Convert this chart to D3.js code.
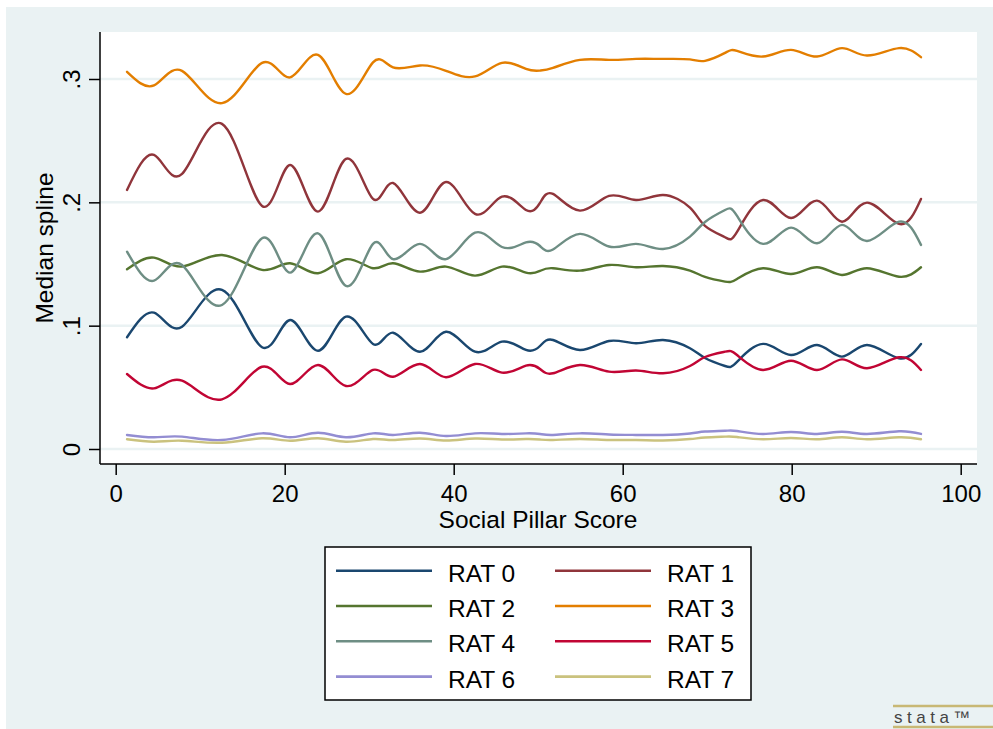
<!DOCTYPE html>
<html>
<head>
<meta charset="utf-8">
<script src="https://cdn.jsdelivr.net/npm/d3@7"></script>
<style>
  html, body { margin: 0; padding: 0; background: #ffffff; }
  svg { display: block; font-family: "Liberation Sans", Arial, sans-serif; }
</style>
</head>
<body>
<svg id="chart" width="993" height="729"></svg>
<script>
// Social Pillar Score at which each median-spline knot sits
const scores = [1.34, 4.53, 7.85, 12.58, 17.32, 20.63, 23.94, 27.25, 30.45, 32.82,
  36.01, 39.09, 42.52, 45.71, 48.55, 50.21, 51.75, 54.94, 58.38, 61.57,
  64.77, 67.96, 69.74, 72.11, 73.53, 76.61, 79.92, 83.00, 85.95, 88.91, 92.70, 95.30];

const rat0 = [0.0906, 0.1105, 0.0992, 0.1290, 0.0825, 0.1046, 0.0797, 0.1073, 0.0852, 0.0943,
  0.0789, 0.0951, 0.0789, 0.0870, 0.0803, 0.0835, 0.0884, 0.0803, 0.0876, 0.0857,
  0.0884, 0.0817, 0.0738, 0.0673, 0.0706, 0.0852, 0.0762, 0.0843, 0.0749, 0.0843, 0.0736, 0.0852];
const rat1 = [0.2100, 0.2384, 0.2230, 0.2636, 0.1971, 0.2303, 0.1925, 0.2352, 0.2028, 0.2157,
  0.1916, 0.2165, 0.1906, 0.2046, 0.1938, 0.1995, 0.2068, 0.1933, 0.2052, 0.2019,
  0.2060, 0.1957, 0.1809, 0.1717, 0.1760, 0.2019, 0.1873, 0.2014, 0.1843, 0.1998, 0.1825, 0.2028];
const rat2 = [0.1457, 0.1552, 0.1479, 0.1573, 0.1452, 0.1506, 0.1425, 0.1539, 0.1466, 0.1506,
  0.1438, 0.1479, 0.1406, 0.1479, 0.1430, 0.1444, 0.1466, 0.1446, 0.1492, 0.1474,
  0.1484, 0.1446, 0.1395, 0.1357, 0.1379, 0.1466, 0.1419, 0.1474, 0.1411, 0.1466, 0.1397, 0.1474];
const rat3 = [0.3058, 0.2948, 0.3066, 0.2804, 0.3131, 0.3013, 0.3195, 0.2879, 0.3135, 0.3094,
  0.3110, 0.3066, 0.3021, 0.3131, 0.3082, 0.3068, 0.3090, 0.3155, 0.3155, 0.3163,
  0.3163, 0.3159, 0.3147, 0.3212, 0.3228, 0.3182, 0.3236, 0.3182, 0.3250, 0.3190, 0.3250, 0.3177];
const rat4 = [0.1600, 0.1365, 0.1492, 0.1168, 0.1709, 0.1430, 0.1749, 0.1322, 0.1663, 0.1539,
  0.1663, 0.1539, 0.1754, 0.1638, 0.1675, 0.1646, 0.1618, 0.1744, 0.1642, 0.1663,
  0.1622, 0.1722, 0.1841, 0.1938, 0.1890, 0.1663, 0.1795, 0.1668, 0.1817, 0.1687, 0.1843, 0.1655];
const rat5 = [0.0608, 0.0492, 0.0554, 0.0403, 0.0667, 0.0527, 0.0681, 0.0511, 0.0641, 0.0586,
  0.0689, 0.0582, 0.0689, 0.0619, 0.0676, 0.0649, 0.0614, 0.0681, 0.0627, 0.0637,
  0.0614, 0.0673, 0.0746, 0.0789, 0.0762, 0.0641, 0.0716, 0.0641, 0.0727, 0.0655, 0.0744, 0.0641];
const rat6 = [0.0114, 0.0095, 0.0100, 0.0073, 0.0127, 0.0095, 0.0132, 0.0095, 0.0127, 0.0114,
  0.0132, 0.0105, 0.0127, 0.0122, 0.0127, 0.0122, 0.0114, 0.0127, 0.0118, 0.0114,
  0.0114, 0.0126, 0.0142, 0.0148, 0.0146, 0.0122, 0.0138, 0.0122, 0.0140, 0.0122, 0.0144, 0.0122];
const rat7 = [0.0079, 0.0059, 0.0067, 0.0051, 0.0087, 0.0067, 0.0087, 0.0059, 0.0081, 0.0073,
  0.0085, 0.0069, 0.0085, 0.0077, 0.0081, 0.0077, 0.0073, 0.0081, 0.0073, 0.0073,
  0.0069, 0.0081, 0.0093, 0.0100, 0.0097, 0.0079, 0.0089, 0.0079, 0.0095, 0.0079, 0.0095, 0.0079];

const seriesNames = ["RAT 0", "RAT 1", "RAT 2", "RAT 3", "RAT 4", "RAT 5", "RAT 6", "RAT 7"];
const seriesValues = [rat0, rat1, rat2, rat3, rat4, rat5, rat6, rat7];
const seriesColors = ["#1a476f", "#90353b", "#55752f", "#e37e00", "#6e8e84", "#c10534", "#938dd2", "#cac27e"];

const xTicks = [0, 20, 40, 60, 80, 100];
const yTicks = [0, 0.1, 0.2, 0.3];
const yTickLabels = ["0", ".1", ".2", ".3"];

const svg = d3.select("#chart");
const W = 993, H = 729;
const bg = "#eaf2f3";

// graph region
svg.append("rect").attr("x", 6).attr("y", 7).attr("width", W - 6).attr("height", H - 7).attr("fill", bg);

// plot region
const plot = { left: 100, right: 977, top: 32, bottom: 464 };
svg.append("rect")
  .attr("x", plot.left).attr("y", plot.top)
  .attr("width", plot.right - plot.left).attr("height", plot.bottom - plot.top)
  .attr("fill", "#ffffff");

const x = d3.scaleLinear().domain([0, 100]).range([115.7, 960.7]);
const y = d3.scaleLinear().domain([0, 0.3]).range([449, 79]);

// horizontal grid
svg.append("g").selectAll("line").data(yTicks).join("line")
  .attr("x1", plot.left).attr("x2", plot.right)
  .attr("y1", d => y(d)).attr("y2", d => y(d))
  .attr("stroke", bg).attr("stroke-width", 2.5);

// y axis
const yAxis = d3.axisLeft(y).tickValues(yTicks).tickSize(11).tickFormat((d, i) => yTickLabels[i]);
const gy = svg.append("g").attr("transform", `translate(${plot.left},0)`).call(yAxis);
gy.select(".domain").remove();
gy.selectAll(".tick line").attr("stroke", "#000").attr("stroke-width", 1.5);
gy.selectAll(".tick text")
  .attr("font-size", 24).attr("fill", "#000")
  .attr("transform", "rotate(-90)")
  .attr("x", 0).attr("y", -20).attr("dy", 0)
  .attr("text-anchor", "middle");
gy.attr("font-family", null);
svg.append("line").attr("x1", plot.left).attr("x2", plot.left)
  .attr("y1", plot.top).attr("y2", plot.bottom)
  .attr("stroke", "#000").attr("stroke-width", 1.5);

// x axis
const xAxis = d3.axisBottom(x).tickValues(xTicks).tickSize(11).tickFormat(d3.format("d"));
const gx = svg.append("g").attr("transform", `translate(0,${plot.bottom})`).call(xAxis);
gx.select(".domain").remove();
gx.attr("font-family", null);
gx.selectAll(".tick line").attr("stroke", "#000").attr("stroke-width", 1.5);
gx.selectAll(".tick text").attr("font-size", 24).attr("fill", "#000").attr("y", 38).attr("dy", 0);
svg.append("line").attr("x1", plot.left).attr("x2", plot.right)
  .attr("y1", plot.bottom).attr("y2", plot.bottom)
  .attr("stroke", "#000").attr("stroke-width", 1.5);

// axis titles
svg.append("text").attr("x", 538).attr("y", 528).attr("text-anchor", "middle")
  .attr("font-size", 24.5).attr("fill", "#000").text("Social Pillar Score");
svg.append("text").attr("transform", "translate(53,248) rotate(-90)").attr("text-anchor", "middle")
  .attr("font-size", 24.5).attr("fill", "#000").text("Median spline");

// spline curves
const line = d3.line()
  .x((d, i) => x(scores[i]))
  .y(d => y(d))
  .curve(d3.curveNatural);

const curves = svg.append("g")
  .attr("fill", "none").attr("stroke-width", 2.4)
  .attr("stroke-linejoin", "round").attr("stroke-linecap", "round");
seriesValues.forEach((vals, k) => {
  curves.append("path").attr("d", line(vals)).attr("stroke", seriesColors[k]);
});

// legend
const legend = svg.append("g");
legend.append("rect").attr("x", 325).attr("y", 547).attr("width", 426).attr("height", 153)
  .attr("fill", "#ffffff").attr("stroke", "#000").attr("stroke-width", 1.5);
seriesNames.forEach((name, k) => {
  const col = k % 2, row = Math.floor(k / 2);
  const lx = col === 0 ? 336 : 555;
  const ly = 570.7 + row * 35.3;
  legend.append("line").attr("x1", lx).attr("x2", lx + 96).attr("y1", ly).attr("y2", ly)
    .attr("stroke", seriesColors[k]).attr("stroke-width", 2.6);
  legend.append("text").attr("x", lx + 112).attr("y", ly + 11)
    .attr("font-size", 24.5).attr("fill", "#000").text(name);
});

// Stata mark
const mark = svg.append("g");
mark.append("line").attr("x1", 893).attr("x2", 993).attr("y1", 706).attr("y2", 706)
  .attr("stroke", "#c8b874").attr("stroke-width", 2.5);
mark.append("line").attr("x1", 893).attr("x2", 993).attr("y1", 727).attr("y2", 727)
  .attr("stroke", "#c8b874").attr("stroke-width", 2.5);
mark.append("text").attr("x", 894).attr("y", 723).attr("font-size", 17)
  .attr("letter-spacing", 4.5).attr("fill", "#444").text("stata™");
</script>
</body>
</html>
